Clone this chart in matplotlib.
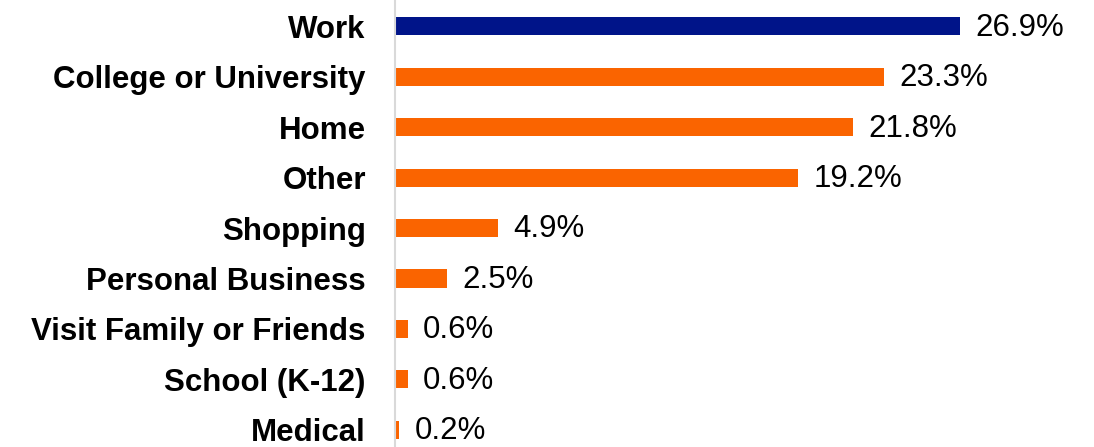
import numpy as np
import matplotlib.pyplot as plt

plt.rcParams['font.family'] = ['Liberation Sans', 'DejaVu Sans']

categories = ['Work', 'College or University', 'Home', 'Other', 'Shopping',
              'Personal Business', 'Visit Family or Friends', 'School (K-12)', 'Medical']
values = [26.9, 23.3, 21.8, 19.2, 4.9, 2.5, 0.6, 0.6, 0.2]
colors = ['#001489'] + ['#FA6400'] * 8

fig = plt.figure(figsize=(10.94, 4.47), dpi=100)
ax = fig.add_axes([395 / 1094, 0, 699 / 1094, 1])

y = np.arange(len(categories))[::-1]
ax.barh(y, values, height=0.36, color=colors)

for yi, v in zip(y, values):
    ax.annotate(f'{v}%', (v, yi), xytext=(11, -1), textcoords='offset points',
                va='center', ha='left', fontsize=22.5)

ax.set_yticks(y)
ax.set_yticklabels(categories, fontsize=22.5, fontweight='bold')
ax.tick_params(axis='y', length=0, pad=21)
ax.set_xticks([])
ax.set_xlim(0, 33.3)
ax.set_ylim(-0.34, 8.52)

for s in ['top', 'right', 'bottom']:
    ax.spines[s].set_visible(False)
ax.spines['left'].set_color('#d9d9d9')
ax.spines['left'].set_linewidth(1.5)

fig.savefig('out.png', dpi=100)
